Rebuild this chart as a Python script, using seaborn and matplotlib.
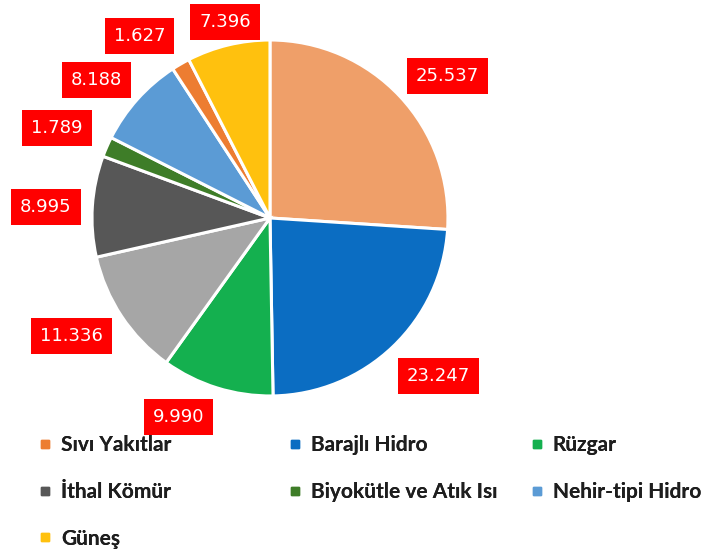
import matplotlib
matplotlib.use("Agg")
import matplotlib.pyplot as plt
from matplotlib.lines import Line2D
import numpy as np
import seaborn as sns

# slice values, clockwise from 12 o'clock
values = [25.537, 23.247, 9.990, 11.336, 8.995, 1.789, 8.188, 1.627, 7.396]
slice_colors = ["#EF9F69", "#0B6DC2", "#14B04F", "#A6A6A6", "#575757",
                "#3E7D28", "#5B9BD5", "#ED7D31", "#FFC10E"]

# legend (as shown in the source, 3 columns, row-major)
legend_labels = ["Sıvı Yakıtlar", "Barajlı Hidro", "Rüzgar",
                 "İthal Kömür", "Biyokütle ve Atık Isı", "Nehir-tipi Hidro",
                 "Güneş"]
legend_colors = ["#ED7D31", "#0B6DC2", "#14B04F",
                 "#575757", "#3E7D28", "#5B9BD5",
                 "#FFC10E"]

# data label placement: distance (pie radii) and angular nudge (deg)
label_radius = [1.275, 1.30, 1.23, 1.30, 1.26, 1.30, 1.245, 1.26, 1.13]
label_nudge = [-4.5, 3.2, -7.3, -2.8, 1.0, 0.7, 3.4, 5.5, -0.6]

sns.set_theme(style="white")
plt.rcParams["font.family"] = ["DejaVu Sans"]

fig = plt.figure(figsize=(7.06, 5.56), dpi=100)
ax = fig.add_axes([0.1303, 0.2878, 0.5042, 0.6403])

wedges, texts = ax.pie(
    values,
    colors=slice_colors,
    startangle=90,
    counterclock=False,
    labels=[f"{v:.3f}" for v in values],
    wedgeprops=dict(edgecolor="white", linewidth=2.2),
    textprops=dict(color="white", fontsize=13),
)
for w, t, r, d in zip(wedges, texts, label_radius, label_nudge):
    ang = np.deg2rad((w.theta1 + w.theta2) / 2 + d)
    t.set_position((r * np.cos(ang), r * np.sin(ang)))
    t.set_ha("center")
    t.set_va("center")
    t.set_bbox(dict(boxstyle="square,pad=0.5", facecolor="#FF0000", edgecolor="none"))
ax.set_xlim(-1, 1)
ax.set_ylim(-1, 1)
ax.set_aspect("equal")

# three legend columns placed separately to mimic the source spacing
handles = [Line2D([], [], marker="s", linestyle="none", markersize=5.5,
                  markerfacecolor=c, markeredgecolor=c) for c in legend_colors]
col_x = [39, 289, 531]
for ci, x in enumerate(col_x):
    idx = list(range(ci, len(legend_labels), 3))
    leg = fig.legend(
        [handles[i] for i in idx],
        [legend_labels[i] for i in idx],
        loc="upper left",
        bbox_to_anchor=(x / 706, 1 - 435 / 556),
        frameon=False,
        borderpad=0,
        borderaxespad=0,
        handlelength=0.55,
        handletextpad=0.5,
        labelspacing=1.29,
        prop=dict(family="Lato", weight="bold", size=15),
        labelcolor="#1E1E1E",
    )
    fig.add_artist(leg)

fig.savefig("out.png", dpi=100, facecolor="white")
